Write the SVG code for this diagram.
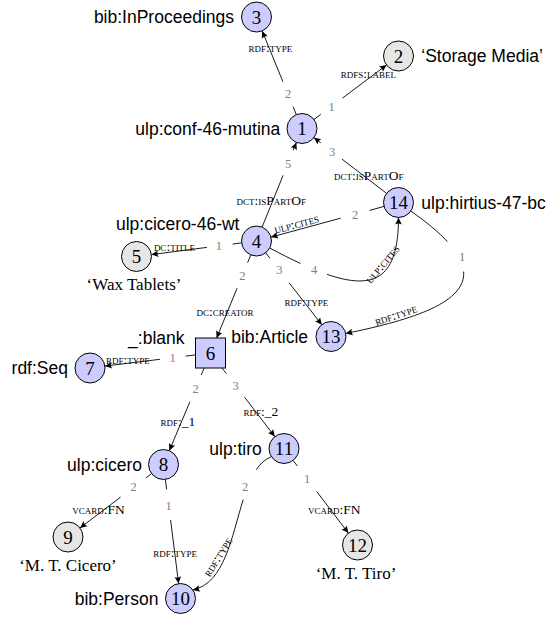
<svg xmlns="http://www.w3.org/2000/svg" width="546" height="617" viewBox="0 0 546 617">
<style>
  .n circle, .n rect { stroke: #000; stroke-width: 1; fill: #ccccff; }
  .n.lit circle { fill: #e6e6e6; }
  .id { font-family: "Liberation Serif", "Times New Roman", serif; font-size: 19px; text-anchor: middle; }
  .lbl { font-family: "Liberation Sans", Arial, sans-serif; font-size: 17.5px; }
  .end { text-anchor: end; }
  .str { font-family: "Liberation Serif", "Times New Roman", serif; font-size: 17px; text-anchor: middle; }
  .e path { fill: none; stroke: #000; stroke-width: 0.9; marker-end: url(#arr); }
  .num { font-family: "Liberation Serif", "Times New Roman", serif; font-size: 12.5px; fill: #808080; text-anchor: middle; }
  .pred { font-family: "Liberation Serif", "Times New Roman", serif; font-size: 13.5px; font-variant: small-caps; text-anchor: middle; }
</style>
<defs>
  <marker id="arr" viewBox="-8 -4 9 8" refX="0" refY="0" markerWidth="9" markerHeight="8" markerUnits="userSpaceOnUse" orient="auto">
    <path d="M0,0 L-7,-3.3 Q-5,0 -7,3.3 Z" fill="#000"/>
  </marker>
</defs>
<rect width="546" height="617" fill="#fff"/>

<!-- connectors: tick at the source, gap for the order number, then the arrow -->
<g id="edges" class="e">
  <path d="M296.3,114.6 L293.1,106.7 M282.9,81.7 L262.2,30.9"/>
  <path d="M314.0,119.5 L320.8,114.4 M342.4,98.2 L386.5,65.0"/>
  <path d="M262.1,227.1 L283.1,175.3 M293.2,150.3 L296.4,142.4"/>
  <path d="M386.6,193.4 L342.1,159.2 M320.7,142.8 L313.9,137.6"/>
  <path d="M384.0,206.4 L369.6,210.4 M340.6,218.2 L271.0,237.1"/>
  <path d="M269.7,248.0 C357.7,295 398.5,297.5 398.5,217.5" stroke-dasharray="34.5 28.7 1000"/>
  <path d="M410.8,211.1 C513.3,282.4 453.5,311.5 345.7,333.5" stroke-dasharray="47.7 34.6 1000"/>
  <path d="M241.6,242.9 L232.7,244.1 M206.9,247.4 L151.4,254.6"/>
  <path d="M250.8,254.9 L247.6,262.7 M237.1,288.2 L216.6,338.0"/>
  <path d="M265.7,252.8 L270.0,258.3 M289.1,282.8 L321.8,324.7"/>
  <path d="M195.5,354.9 L185.7,356.1 M159.9,359.3 L104.9,366.1"/>
  <path d="M204.2,368.0 L201.2,375.1 M189.9,401.8 L169.3,450.7"/>
  <path d="M222.0,368.0 L226.4,373.6 M244.7,397.4 L274.8,436.6"/>
  <path d="M151.5,473.6 L146.0,477.8 M120.5,497.2 L80.0,527.9"/>
  <path d="M165.4,479.4 L166.6,489.3 M170.6,520.1 L178.6,583.6"/>
  <path d="M293.1,460.4 L297.3,466.0 M316.7,491.5 L348.4,533.1"/>
  <path d="M271.4,456.7 C232,472 242,580 192.8,589.9" stroke-dasharray="20.4 32.6 1000"/>

  <!-- order numbers -->
  <text class="num" x="288" y="98.4">2</text>
  <text class="num" x="331.6" y="110.5">1</text>
  <text class="num" x="288" y="168.2">5</text>
  <text class="num" x="332" y="156.2">3</text>
  <text class="num" x="355.1" y="218.5">2</text>
  <text class="num" x="314" y="274.2">4</text>
  <text class="num" x="462" y="261.2">1</text>
  <text class="num" x="218.8" y="250.1">1</text>
  <text class="num" x="242.3" y="279.9">2</text>
  <text class="num" x="279.3" y="274.4">3</text>
  <text class="num" x="172.5" y="361.9">1</text>
  <text class="num" x="195.5" y="392.7">2</text>
  <text class="num" x="235.5" y="389.7">3</text>
  <text class="num" x="133.6" y="491.4">2</text>
  <text class="num" x="168.7" y="509.9">1</text>
  <text class="num" x="307" y="482.9">1</text>
  <text class="num" x="245" y="491.2">2</text>

  <!-- predicates -->
  <text class="pred" x="270.5" y="52.2">rdf:type</text>
  <text class="pred" x="368.4" y="77.8">rdfs:label</text>
  <text class="pred" x="271.2" y="205">dct:isPartOf</text>
  <text class="pred" x="368.7" y="180">dct:isPartOf</text>
  <text class="pred" transform="translate(298,229.8) rotate(-15.2)" y="-2">ulp:cites</text>
  <text class="pred" transform="translate(387,268) rotate(-50)" y="-2">ulp:cites</text>
  <text class="pred" transform="translate(397.8,320.7) rotate(-18.5)" y="-2">rdf:type</text>
  <text class="pred" x="174.5" y="251">dc:title</text>
  <text class="pred" x="225.1" y="316">dc:creator</text>
  <text class="pred" x="306.4" y="306">rdf:type</text>
  <text class="pred" x="128" y="364">rdf:type</text>
  <text class="pred" x="178" y="426">rdf:_1</text>
  <text class="pred" x="261" y="416">rdf:_2</text>
  <text class="pred" x="98.4" y="514">vcard:FN</text>
  <text class="pred" x="175.1" y="557">rdf:type</text>
  <text class="pred" x="334.3" y="514">vcard:FN</text>
  <text class="pred" transform="translate(223,560) rotate(-58)" y="-2">rdf:type</text>
</g>

<!-- nodes -->
<g id="n1" class="n"><circle cx="302" cy="128.5" r="15"/><text class="id" x="302" y="135">1</text><text class="lbl end" x="280.3" y="134.5">ulp:conf-46-mutina</text></g>
<g id="n2" class="n lit"><circle cx="398.5" cy="56" r="15"/><text class="id" x="398.5" y="62.5">2</text><text class="lbl" x="421.3" y="62">‘Storage Media’</text></g>
<g id="n3" class="n"><circle cx="256.5" cy="17" r="15"/><text class="id" x="256.5" y="23.5">3</text><text class="lbl end" x="234" y="23">bib:InProceedings</text></g>
<g id="n4" class="n"><circle cx="256.5" cy="241" r="15"/><text class="id" x="256.5" y="247.5">4</text><text class="lbl end" x="239.5" y="230.2">ulp:cicero-46-wt</text></g>
<g id="n5" class="n lit"><circle cx="136.5" cy="256.5" r="15"/><text class="id" x="136.5" y="263">5</text><text class="str" x="134" y="290">‘Wax Tablets’</text></g>
<g id="n6" class="n"><rect x="195.5" y="338" width="30" height="30"/><text class="id" x="210.5" y="359.5">6</text><text class="lbl end" x="184.5" y="344.4">_:blank</text></g>
<g id="n7" class="n"><circle cx="90" cy="368" r="15"/><text class="id" x="90" y="374.5">7</text><text class="lbl end" x="68" y="374">rdf:Seq</text></g>
<g id="n8" class="n"><circle cx="163.5" cy="464.5" r="15"/><text class="id" x="163.5" y="471">8</text><text class="lbl end" x="142" y="470.5">ulp:cicero</text></g>
<g id="n9" class="n lit"><circle cx="68" cy="537" r="15"/><text class="id" x="68" y="543.5">9</text><text class="str" x="68" y="571.4">‘M. T. Cicero’</text></g>
<g id="n10" class="n"><circle cx="180.5" cy="598.5" r="15"/><text class="id" x="180.5" y="605">10</text><text class="lbl end" x="158.4" y="604.5">bib:Person</text></g>
<g id="n11" class="n"><circle cx="284" cy="448.5" r="15"/><text class="id" x="284" y="455">11</text><text class="lbl end" x="261.8" y="454.5">ulp:tiro</text></g>
<g id="n12" class="n lit"><circle cx="357.5" cy="545" r="15"/><text class="id" x="357.5" y="551.5">12</text><text class="str" x="356" y="578.5">‘M. T. Tiro’</text></g>
<g id="n13" class="n"><circle cx="331" cy="336.5" r="15"/><text class="id" x="331" y="343">13</text><text class="lbl end" x="308.1" y="342.5">bib:Article</text></g>
<g id="n14" class="n"><circle cx="398.5" cy="202.5" r="15"/><text class="id" x="398.5" y="209">14</text><text class="lbl" x="421.3" y="208.5">ulp:hirtius-47-bc</text></g>
</svg>
